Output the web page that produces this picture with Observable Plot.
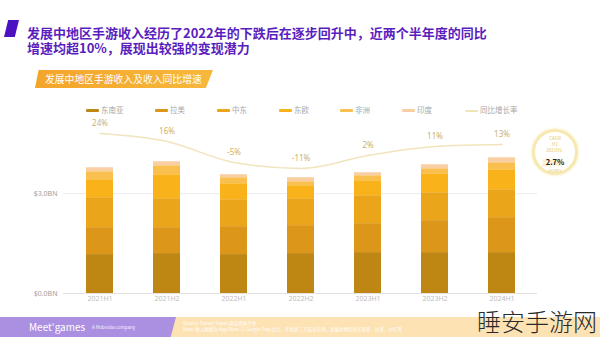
<!DOCTYPE html>
<html><head><meta charset="utf-8">
<script src="https://cdn.jsdelivr.net/npm/d3@7"></script>
<script src="https://cdn.jsdelivr.net/npm/@observablehq/plot@0.6"></script>
<style>
body{margin:0;background:#fff;font-family:"Noto Sans CJK SC","Noto Sans",sans-serif;}
#root{position:relative;width:600px;height:337px;overflow:hidden;background:#fff}
.abs{position:absolute;white-space:nowrap}
#chart{position:absolute;left:0;top:115px}
.leg{position:absolute;top:104px;height:12px;font-size:7.5px;color:#a8a8a8;line-height:12px}
.leg i{display:inline-block;width:13px;height:3px;vertical-align:middle;margin-right:2px;border-radius:1px}
.ttl{position:absolute;left:27px;font-size:13px;line-height:13px;font-weight:700;color:#5A1EBE;white-space:nowrap}
</style></head><body><div id="root">
  <div class="abs" style="left:4px;top:20px;width:15px;height:17px;background:#4C12C2;clip-path:polygon(28% 0,100% 0,72% 100%,0 100%)"></div>
  <div class="ttl" style="top:25.5px">发展中地区手游收入经历了2022年的下跌后在逐步回升中，近两个半年度的同比</div>
  <div class="ttl" style="top:41px">增速均超10%，展现出较强的变现潜力</div>
  <div class="abs" style="left:35px;top:70px;width:178px;height:18px;background:linear-gradient(90deg,#F3A52A,#F7B83C);clip-path:polygon(2% 0,100% 0,96% 100%,0 100%)"></div>
  <div class="abs" style="left:45px;top:70px;height:18px;line-height:18px;font-size:9.8px;color:#fff">发展中地区手游收入及收入同比增速</div>
  <div id="legend"></div>
  <div id="chart"></div>
  <div class="abs" style="left:532px;top:129px;width:46px;height:46px;border-radius:50%;border:3px solid #F6E8AE;box-sizing:border-box;box-shadow:0 0 3px #F3E3A0"></div>
  <div class="abs" style="left:532px;top:135px;width:46px;text-align:center;font-size:4.5px;line-height:6px;color:#E2C46E">CAGR<br>H1<br>2021H1-</div>
  <div class="abs" style="left:532px;top:157px;width:46px;text-align:center;font-size:7.5px;line-height:9px;color:#222;font-weight:700;text-shadow:-4px 1px 2px #F2DC98,0 0 3px #F6E6B0">2.7%</div>
  <div class="abs" style="left:532px;top:168px;width:46px;text-align:center;font-size:4px;line-height:5px;color:#E2C46E">2024H1</div>
  <div class="abs" style="left:0;top:317px;width:600px;height:20px;background:#FDE2B4"></div>
  <div class="abs" style="left:0;top:317px;width:176px;height:20px;background:#AB90E2;clip-path:polygon(0 0,100% 0,97% 100%,0 100%)"></div>
  <div class="abs" style="left:29px;top:320px;font-size:10px;line-height:14px;color:#fff">Meet'games</div>
  <div class="abs" style="left:92px;top:325px;font-size:4.5px;line-height:5px;color:#f3eefc">A Mobvista company</div>
  <div class="abs" style="left:183px;top:320px;font-size:4.5px;line-height:6px;color:#fff">Source: Sensor Tower 商店情报平台<br>Note: 收入数据为 App Store 与 Google Play 合计，不含第三方安卓市场，发展中地区含东南亚、拉美、中东等</div>
  <div class="abs" style="left:477px;top:309px;font-size:24px;line-height:24px;font-weight:300;color:#2a2a2a">睡安手游网</div>
</div>
<script>
const periods = ["2021H1","2021H2","2022H1","2022H2","2023H1","2023H2","2024H1"];
const regions = ["东南亚","拉美","中东","东欧","非洲","印度"];
const regionColors = ["#BE8714","#DC961A","#EBA51B","#FAB21A","#F9C050","#F8CEA2"];
const seaRevenue    = [1.17, 1.20, 1.17, 1.20, 1.23, 1.23, 1.23];
const latamRevenue  = [0.81, 0.78, 0.84, 0.84, 0.87, 0.96, 1.05];
const meRevenue     = [0.90, 0.87, 0.81, 0.81, 0.84, 0.84, 0.84];
const eeRevenue     = [0.54, 0.72, 0.48, 0.39, 0.45, 0.57, 0.60];
const africaRevenue = [0.24, 0.27, 0.18, 0.12, 0.15, 0.15, 0.21];
const indiaRevenue  = [0.12, 0.12, 0.09, 0.12, 0.09, 0.12, 0.15];
const growthRate    = [24, 16, -5, -11, 2, 11, 13];
const growthLabel = "同比增长率";
const yTicks = [0, 3];

const series = [seaRevenue, latamRevenue, meRevenue, eeRevenue, africaRevenue, indiaRevenue];
const rows = [];
regions.forEach((r, i) => series[i].forEach((v, j) => rows.push({period: periods[j], region: r, value: v})));
const growth = periods.map((p, i) => ({period: p, rate: growthRate[i]}));
// secondary axis for growth rate mapped onto revenue axis
const rateToY = r => (136 + r) / 33.27;

// legend
const legend = document.getElementById("legend");
const legX = [86, 155, 217, 279, 340, 402];
regions.forEach((r, i) => {
  const d = document.createElement("div");
  d.className = "leg"; d.style.left = legX[i] + "px";
  d.innerHTML = `<i style="background:${regionColors[i]}"></i>${r}`;
  legend.appendChild(d);
});
const gl = document.createElement("div");
gl.className = "leg"; gl.style.left = "465px";
gl.innerHTML = `<i style="background:#EDE4B8;height:1.5px"></i>${growthLabel}`;
legend.appendChild(gl);

const chart = Plot.plot({
  width: 600, height: 195,
  marginLeft: 63, marginRight: 63, marginTop: 10, marginBottom: 17,
  x: {type: "band", domain: periods, paddingInner: 0.6, paddingOuter: 0.3, label: null, axis: null},
  y: {domain: [0, 5.05], label: null, axis: null},
  color: {domain: regions, range: regionColors},
  style: {fontFamily: "'Noto Sans', sans-serif", background: "transparent", overflow: "visible"},
  marks: [
    Plot.ruleY([3], {stroke: "#ececec"}),
    Plot.barY(rows, {x: "period", y: "value", fill: "region"}),
    Plot.ruleY([0], {stroke: "#e2e2e2"}),
    Plot.line(growth, {x: "period", y: d => rateToY(d.rate), curve: "monotone-x", stroke: "#F1E4BC", strokeWidth: 1.5}),
    Plot.text(growth, {x: "period", y: d => rateToY(d.rate), text: d => `${d.rate}%`, dy: -10, fill: "#CDB06A", fontSize: 8}),
    Plot.axisY({ticks: yTicks, tickFormat: d => `$${d.toFixed(1)}BN`, tickSize: 0, tickPadding: 6, fontSize: 7, color: "#a0a0a0", label: null}),
    Plot.axisX({tickSize: 0, tickPadding: 3, fontSize: 7, color: "#bdbdbd", label: null})
  ]
});
document.getElementById("chart").appendChild(chart);
</script></body></html>
